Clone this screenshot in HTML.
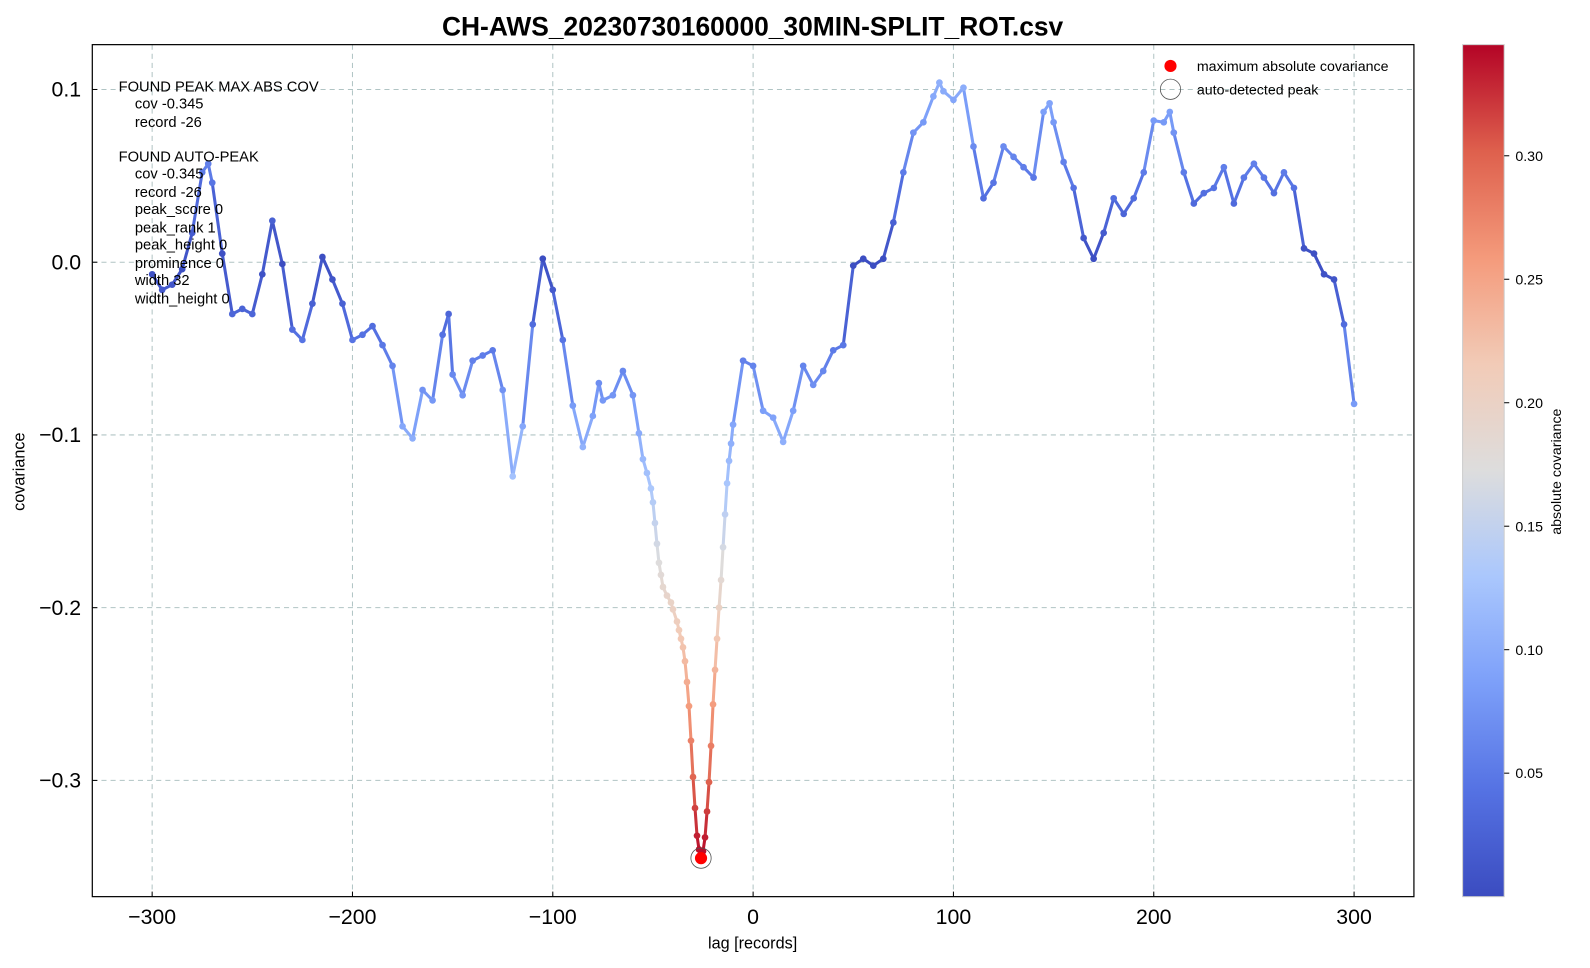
<!DOCTYPE html>
<html><head><meta charset="utf-8"><style>
body{margin:0;background:#fff;}
svg text{font-family:"Liberation Sans",sans-serif;}
</style></head><body>
<svg id="chart" width="1590" height="963" viewBox="0 0 1567.6 949.4" xmlns="http://www.w3.org/2000/svg">
<defs>
<linearGradient id="cbar" x1="0" y1="1" x2="0" y2="0">
<stop offset="0" stop-color="rgb(59,76,192)"/>
<stop offset="0.125" stop-color="rgb(85,114,227)"/>
<stop offset="0.25" stop-color="rgb(124,159,249)"/>
<stop offset="0.375" stop-color="rgb(170,199,253)"/>
<stop offset="0.5" stop-color="rgb(221,221,221)"/>
<stop offset="0.625" stop-color="rgb(242,203,183)"/>
<stop offset="0.75" stop-color="rgb(244,154,123)"/>
<stop offset="0.875" stop-color="rgb(222,96,77)"/>
<stop offset="1" stop-color="rgb(180,4,38)"/>
</linearGradient>
</defs>
<text x="742" y="35" font-size="26" font-weight="bold" text-anchor="middle">CH-AWS_20230730160000_30MIN-SPLIT_ROT.csv</text>
<g id="grid"></g>
<g id="series"></g>
<rect x="91" y="44" width="1303" height="840" fill="none" stroke="#000" stroke-width="1.2"/>
<g id="axes"></g>
<text x="742" y="935" font-size="16" text-anchor="middle">lag [records]</text>
<text transform="translate(24,465) rotate(-90)" font-size="16" text-anchor="middle">covariance</text>
<g font-size="14.5">
<text x="117" y="90">FOUND PEAK MAX ABS COV</text>
<text x="133" y="107">cov -0.345</text>
<text x="133" y="125">record -26</text>
<text x="117" y="159">FOUND AUTO-PEAK</text>
<text x="133" y="176">cov -0.345</text>
<text x="133" y="194">record -26</text>
<text x="133" y="211">peak_score 0</text>
<text x="133" y="229">peak_rank 1</text>
<text x="133" y="246">peak_height 0</text>
<text x="133" y="264">prominence 0</text>
<text x="133" y="281">width 32</text>
<text x="133" y="299">width_height 0</text>
</g>
<g font-size="14">
<circle cx="1154" cy="65" r="6" fill="#ff0000"/>
<text x="1180" y="70">maximum absolute covariance</text>
<circle cx="1154" cy="88" r="10" fill="none" stroke="#555" stroke-width="0.8"/>
<text x="1180" y="93">auto-detected peak</text>
</g>
<rect x="1442" y="44" width="41" height="840" fill="url(#cbar)" stroke="#ccc" stroke-width="1"/>
<g id="cbticks"></g>
<text transform="translate(1539,465) rotate(-90)" font-size="14" text-anchor="middle">absolute covariance</text>
</svg>
<script>
const lags=[-300,-295,-290,-285,-280,-275,-272,-270,-265,-260,-255,-250,-245,-240,-235,-230,-225,-220,-215,-210,-205,-200,-195,-190,-185,-180,-175,-170,-165,-160,-155,-152,-150,-145,-140,-135,-130,-125,-120,-115,-110,-105,-100,-95,-90,-85,-80,-77,-75,-70,-65,-60,
-57,-55,-53,-51,-50,-49,-48,-47,-46,-45,-43,-41,-40,-38,-37,-36,-35,-34,-33,-32,-31,-30,-29,-28,-27,-26,-25,-24,-23,-22,-21,-20,-19,-18,-17,-16,-15,-14,-13,-12,-11,-10,
-5,0,5,10,15,20,25,30,35,40,45,50,55,60,65,70,75,80,85,90,93,95,100,105,110,115,120,125,130,135,140,145,148,150,155,160,165,170,175,180,185,190,195,200,205,208,210,215,220,225,230,235,240,245,250,255,260,265,270,275,280,285,290,295,300];
const covs=[-0.007,-0.016,-0.013,-0.004,0.017,0.052,0.057,0.046,0.005,-0.030,-0.027,-0.030,-0.007,0.024,-0.001,-0.039,-0.045,-0.024,0.003,-0.010,-0.024,-0.045,-0.042,-0.037,-0.048,-0.060,-0.095,-0.102,-0.074,-0.080,-0.042,-0.030,-0.065,-0.077,-0.057,-0.054,-0.051,-0.074,-0.124,-0.095,-0.036,0.002,-0.016,-0.045,-0.083,-0.107,-0.089,-0.070,-0.080,-0.077,-0.063,-0.077,
-0.099,-0.114,-0.122,-0.131,-0.139,-0.151,-0.163,-0.174,-0.181,-0.188,-0.193,-0.197,-0.201,-0.208,-0.213,-0.218,-0.223,-0.231,-0.243,-0.257,-0.277,-0.298,-0.316,-0.332,-0.340,-0.345,-0.341,-0.333,-0.318,-0.301,-0.280,-0.256,-0.236,-0.218,-0.200,-0.184,-0.165,-0.146,-0.128,-0.115,-0.105,-0.094,
-0.057,-0.060,-0.086,-0.090,-0.104,-0.086,-0.060,-0.071,-0.063,-0.051,-0.048,-0.002,0.002,-0.002,0.002,0.023,0.052,0.075,0.081,0.096,0.104,0.099,0.094,0.101,0.067,0.037,0.046,0.067,0.061,0.055,0.049,0.087,0.092,0.081,0.058,0.043,0.014,0.002,0.017,0.037,0.028,0.037,0.052,0.082,0.081,0.087,0.075,0.052,0.034,0.040,0.043,0.055,0.034,0.049,0.057,0.049,0.040,0.052,0.043,0.008,0.005,-0.007,-0.010,-0.036,-0.082];
const xTicks=[-300,-200,-100,0,100,200,300];
const yTicks=[0.1,0.0,-0.1,-0.2,-0.3];
const yTickLabels=["0.1","0.0","\u22120.1","\u22120.2","\u22120.3"];
const cbTicks=[0.05,0.10,0.15,0.20,0.25,0.30];
const cbMax=0.345;
const peakLag=-26, peakCov=-0.345;

const NS="http://www.w3.org/2000/svg";
const X=v=>742.5+v*1.975;
const Y=v=>258.5-v*1703;
const CB=v=>884-v/cbMax*840;
const stops=[[59,76,192],[85,114,227],[124,159,249],[170,199,253],[221,221,221],[242,203,183],[244,154,123],[222,96,77],[180,4,38]];
function cmap(t){t=Math.max(0,Math.min(1,t));const p=t*8,i=Math.min(7,Math.floor(p)),f=p-i;const a=stops[i],b=stops[i+1];return `rgb(${a.map((c,k)=>Math.round(c+(b[k]-c)*f)).join(',')})`;}
function mk(tag,attrs,parent){const e=document.createElementNS(NS,tag);for(const k in attrs)e.setAttribute(k,attrs[k]);parent.appendChild(e);return e;}
const grid=document.getElementById('grid'),axes=document.getElementById('axes'),ser=document.getElementById('series'),cbt=document.getElementById('cbticks');
xTicks.forEach(t=>{
 const l=mk('line',{x1:X(t),x2:X(t),y1:44,y2:884,stroke:'#b0c4c4','stroke-dasharray':'5,4','stroke-width':1},grid);
 
 
 const tk=mk('line',{x1:X(t),x2:X(t),y1:884,y2:879,stroke:'#000'},axes);
 
 
 const tx=mk('text',{x:X(t),y:911,'font-size':21,'text-anchor':'middle'},axes);
 tx.textContent=(t<0?'\u2212'+(-t):t);
 
 
});
yTicks.forEach((t,i)=>{
 const l=mk('line',{x1:91,x2:1394,y1:Y(t),y2:Y(t),stroke:'#b0c4c4','stroke-dasharray':'5,4','stroke-width':1},grid);
 
 
 const tk=mk('line',{x1:91,x2:96,y1:Y(t),y2:Y(t),stroke:'#000'},axes);
 
 
 const tx=mk('text',{x:80,y:Y(t)+7,'font-size':21,'text-anchor':'end'},axes);
 tx.textContent=yTickLabels[i];
 
 
});
for(let i=0;i<lags.length-1;i++){
 const c=cmap((Math.abs(covs[i])+Math.abs(covs[i+1]))/2/cbMax);
 const s=mk('line',{x1:X(lags[i]),y1:Y(covs[i]),x2:X(lags[i+1]),y2:Y(covs[i+1]),stroke:c,'stroke-width':3,'stroke-linecap':'round'},ser);
 
 
}
for(let i=0;i<lags.length;i++){
 const d=mk('circle',{cx:X(lags[i]),cy:Y(covs[i]),r:3.3,fill:cmap(Math.abs(covs[i])/cbMax)},ser);
 
 
}
const pk=mk('circle',{cx:X(peakLag),cy:Y(peakCov),r:6,fill:'#ff0000'},ser);


const ap=mk('circle',{cx:X(peakLag),cy:Y(peakCov),r:10,fill:'none',stroke:'#555','stroke-width':0.8},ser);


cbTicks.forEach(t=>{
 const tk=mk('line',{x1:1483,x2:1488,y1:CB(t),y2:CB(t),stroke:'#000'},cbt);
 
 
 const tx=mk('text',{x:1494,y:CB(t)+5,'font-size':14},cbt);
 tx.textContent=t.toFixed(2);
 
 
});
</script>
</body></html>
